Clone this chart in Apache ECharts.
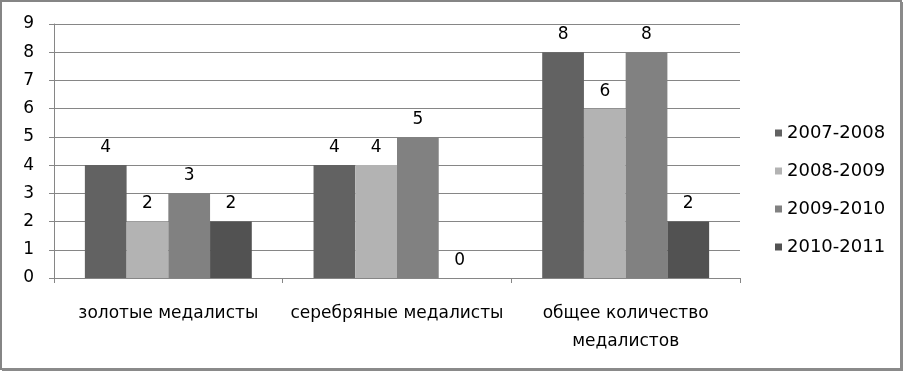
<!DOCTYPE html>
<html><head><meta charset="utf-8">
<script src="https://cdn.jsdelivr.net/npm/echarts@6/dist/echarts.min.js"></script>
<style>html,body{margin:0;padding:0;background:#fff}#c{width:903px;height:371px}</style>
</head><body><div id="c"></div>
<script>
var categories = ['золотые медалисты', 'серебряные медалисты', 'общее количество\nмедалистов'];
var seriesNames = ['2007-2008', '2008-2009', '2009-2010', '2010-2011'];
var values2007 = [4, 4, 8];
var values2008 = [2, 4, 6];
var values2009 = [3, 5, 8];
var values2010 = [2, 0, 2];
var yTicks = [0, 1, 2, 3, 4, 5, 6, 7, 8, 9];

var colors = ['#626262', '#b3b3b3', '#818181', '#525252'];
var allValues = [values2007, values2008, values2009, values2010];
var FONT = 'DejaVu Sans';

var chart = echarts.init(document.getElementById('c'), null, {renderer: 'canvas'});
var series = seriesNames.map(function (n, i) {
  return {
    name: n, type: 'bar', data: allValues[i],
    barGap: '0%', barCategoryGap: '27%',
    itemStyle: {color: colors[i]},
    label: {show: true, position: 'top', distance: 9, color: '#000', fontFamily: FONT, fontSize: 17},
    emphasis: {disabled: true}
  };
});
chart.setOption({
  animation: false,
  backgroundColor: '#fff',
  textStyle: {fontFamily: FONT},
  grid: {left: 54, right: 163, top: 24, bottom: 93, containLabel: false},
  legend: {
    orient: 'vertical', left: 770, top: 118, itemWidth: 7, itemHeight: 7, itemGap: 18,
    icon: 'rect',
    textStyle: {fontFamily: FONT, fontSize: 18, color: '#000', lineHeight: 20},
    data: seriesNames
  },
  xAxis: {
    type: 'category', data: categories,
    axisLine: {lineStyle: {color: '#868686', width: 1}},
    axisTick: {show: true, length: 5, lineStyle: {color: '#868686'}},
    axisLabel: {color: '#000', fontFamily: FONT, fontSize: 17, margin: 22, lineHeight: 28, interval: 0}
  },
  yAxis: {
    type: 'value', min: yTicks[0], max: yTicks[yTicks.length - 1], interval: 1,
    axisLine: {show: true, lineStyle: {color: '#868686'}},
    axisTick: {show: true, length: 5, lineStyle: {color: '#868686'}},
    splitLine: {lineStyle: {color: '#868686', width: 1}},
    axisLabel: {color: '#000', fontFamily: FONT, fontSize: 17, margin: 20}
  },
  graphic: [
    {type: 'rect', shape: {x: 1, y: 1, width: 900, height: 368}, style: {fill: null, stroke: '#858585', lineWidth: 2}, silent: true},
    {type: 'rect', shape: {x: 900, y: 2, width: 3, height: 369}, style: {fill: '#8a8a8a'}, silent: true},
    {type: 'rect', shape: {x: 2, y: 368, width: 901, height: 3}, style: {fill: '#8a8a8a'}, silent: true}
  ],
  series: series
});
</script></body></html>
